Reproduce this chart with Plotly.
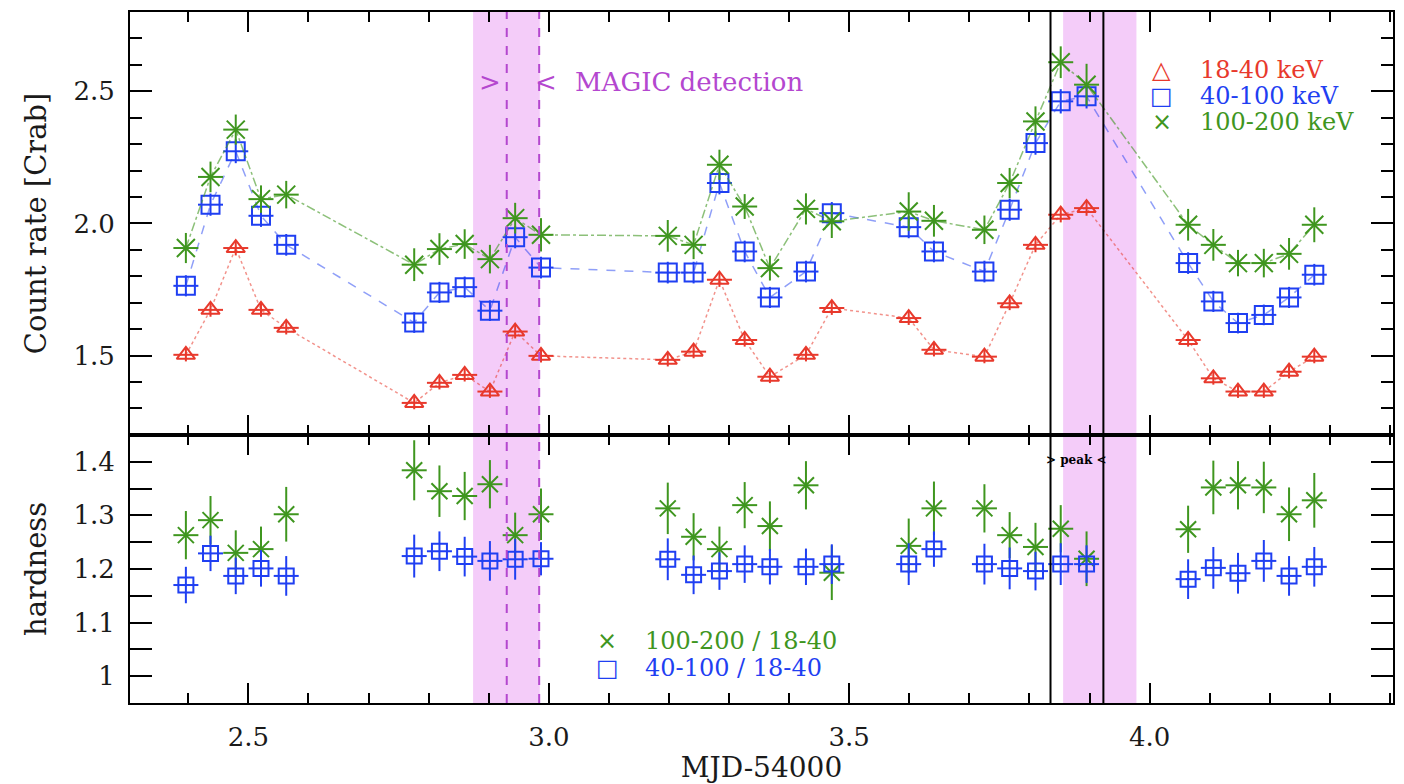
import plotly.graph_objects as go

# ---------------- data ----------------
mjd = [2.396, 2.437, 2.479, 2.521, 2.563, 2.776, 2.818, 2.860, 2.902, 2.944, 2.987,
       3.198, 3.241, 3.284, 3.326, 3.368, 3.428, 3.471, 3.599, 3.641, 3.725, 3.767,
       3.810, 3.852, 3.895, 4.064, 4.106, 4.147, 4.190, 4.232, 4.274]

rate_18_40 = [1.503, 1.673, 1.907, 1.673, 1.605, 1.321, 1.397, 1.427, 1.364, 1.591, 1.499,
              1.484, 1.515, 1.787, 1.559, 1.420, 1.503, 1.680, 1.642, 1.522, 1.496, 1.698,
              1.919, 2.033, 2.058, 1.559, 1.414, 1.364, 1.364, 1.439, 1.496]
err_18_40 = [0.025, 0.026, 0.028, 0.026, 0.025, 0.024, 0.025, 0.025, 0.024, 0.026, 0.025,
             0.025, 0.025, 0.027, 0.025, 0.024, 0.025, 0.026, 0.026, 0.025, 0.025, 0.026,
             0.028, 0.029, 0.029, 0.025, 0.024, 0.024, 0.024, 0.025, 0.025]

rate_40_100 = [1.764, 2.071, 2.273, 2.029, 1.919, 1.625, 1.739, 1.759, 1.670, 1.948, 1.833,
               1.814, 1.814, 2.153, 1.894, 1.720, 1.818, 2.039, 1.986, 1.894, 1.818, 2.052,
               2.304, 2.462, 2.481, 1.850, 1.705, 1.623, 1.654, 1.720, 1.806]
err_40_100 = [0.040, 0.042, 0.045, 0.042, 0.041, 0.039, 0.040, 0.040, 0.039, 0.042, 0.041,
              0.041, 0.041, 0.043, 0.041, 0.040, 0.041, 0.042, 0.042, 0.041, 0.041, 0.042,
              0.044, 0.046, 0.046, 0.041, 0.040, 0.039, 0.039, 0.040, 0.041]

rate_100_200 = [1.907, 2.176, 2.355, 2.092, 2.109, 1.844, 1.903, 1.922, 1.865, 2.020, 1.957,
                1.953, 1.919, 2.222, 2.064, 1.831, 2.055, 2.008, 2.045, 2.010, 1.976, 2.153,
                2.386, 2.610, 2.525, 1.995, 1.919, 1.850, 1.850, 1.885, 1.995]
err_100_200 = [0.057, 0.058, 0.057, 0.052, 0.052, 0.062, 0.060, 0.056, 0.054, 0.058, 0.063,
               0.060, 0.054, 0.057, 0.047, 0.047, 0.059, 0.063, 0.073, 0.060, 0.054, 0.057,
               0.057, 0.060, 0.079, 0.060, 0.060, 0.050, 0.054, 0.060, 0.066]

hard_100_200 = [1.263, 1.291, 1.230, 1.237, 1.302, 1.384, 1.345, 1.336, 1.358, 1.263, 1.302,
                1.313, 1.260, 1.237, 1.319, 1.280, 1.356, 1.193, 1.243, 1.313, 1.313, 1.263,
                1.241, 1.275, 1.219, 1.274, 1.352, 1.356, 1.352, 1.302, 1.328]
herr_100_200 = [0.045, 0.045, 0.042, 0.042, 0.051, 0.056, 0.048, 0.045, 0.045, 0.042, 0.048,
                0.048, 0.044, 0.042, 0.043, 0.046, 0.045, 0.051, 0.051, 0.050, 0.045, 0.043,
                0.045, 0.044, 0.051, 0.044, 0.050, 0.045, 0.048, 0.050, 0.051]

hard_40_100 = [1.170, 1.229, 1.187, 1.201, 1.187, 1.224, 1.233, 1.223, 1.215, 1.218, 1.219,
               1.218, 1.189, 1.196, 1.209, 1.204, 1.204, 1.209, 1.209, 1.237, 1.209, 1.201,
               1.196, 1.209, 1.209, 1.181, 1.202, 1.192, 1.215, 1.187, 1.204]
herr_40_100 = [0.034, 0.033, 0.034, 0.034, 0.037, 0.040, 0.037, 0.037, 0.037, 0.038, 0.031,
               0.039, 0.036, 0.035, 0.035, 0.033, 0.034, 0.037, 0.039, 0.033, 0.038, 0.039,
               0.036, 0.039, 0.035, 0.037, 0.039, 0.038, 0.039, 0.037, 0.037]

bin_halfwidth = 0.0208          # half of a ~1 h science window (days)

magic_band = [2.874, 2.985]     # MAGIC observation window
magic_lines = [2.930, 2.984]    # MAGIC detection markers
peak_band = [3.856, 3.978]
peak_lines = [3.835, 3.923]

x_ticks = [2.5, 3.0, 3.5, 4.0]
x_ticktext = ["2.5", "3.0", "3.5", "4.0"]
rate_ticks = [1.5, 2.0, 2.5]
rate_ticktext = ["1.5", "2.0", "2.5"]
hard_ticks = [1.0, 1.1, 1.2, 1.3, 1.4]
hard_ticktext = ["1", "1.1", "1.2", "1.3", "1.4"]

# ---------------- style ----------------
RED = "#e8392c"
BLUE = "#1f3ff2"
GREEN = "#3f961f"
VIOLET = "#b447cf"
BAND = "#f4ccf9"
FONT = "DejaVu Serif"
TXT = "#1a1a1a"

fig = go.Figure()


def add_series(x, y, err, color, symbol, size, xa, ya, line=None):
    fig.add_trace(go.Scatter(
        x=x, y=y,
        mode="lines+markers" if line else "markers",
        line=line,
        marker=dict(symbol=symbol, size=size, color=color,
                    line=dict(width=2, color=color)),
        error_y=dict(type="data", array=err, color=color, thickness=2, width=0),
        error_x=dict(type="constant", value=bin_halfwidth, color=color,
                     thickness=2, width=0),
        xaxis=xa, yaxis=ya, showlegend=False, hoverinfo="x+y",
    ))


# top panel: count rates
add_series(mjd, rate_18_40, err_18_40, RED, "triangle-up-open", 16, "x2", "y",
           line=dict(color="rgba(232,57,44,0.55)", width=1.5, dash="dot"))
add_series(mjd, rate_40_100, err_40_100, BLUE, "square-open", 18, "x2", "y",
           line=dict(color="rgba(31,63,242,0.5)", width=1.5, dash="dash"))
add_series(mjd, rate_100_200, err_100_200, GREEN, "x-thin-open", 18, "x2", "y",
           line=dict(color="rgba(63,150,31,0.6)", width=1.5, dash="dashdot"))

# bottom panel: hardness ratios
add_series(mjd, hard_100_200, herr_100_200, GREEN, "x-thin-open", 16, "x", "y2")
add_series(mjd, hard_40_100, herr_40_100, BLUE, "square-open", 15, "x", "y2")

# ---------------- shapes ----------------
shapes = []
for x0, x1 in (magic_band, peak_band):
    shapes.append(dict(type="rect", xref="x", yref="paper", x0=x0, x1=x1, y0=0, y1=1,
                       fillcolor=BAND, line=dict(width=0), layer="below"))
for xv in magic_lines:
    shapes.append(dict(type="line", xref="x", yref="paper", x0=xv, x1=xv, y0=0, y1=1,
                       line=dict(color=VIOLET, width=2, dash="dash"), layer="above"))
for xv in peak_lines:
    shapes.append(dict(type="line", xref="x", yref="paper", x0=xv, x1=xv, y0=0, y1=1,
                       line=dict(color="black", width=2), layer="above"))

# ---------------- annotations ----------------
ann = []
ann.append(dict(x=2.902, y=2.537, xref="x2", yref="y", text=">", showarrow=False,
                font=dict(family=FONT, size=26, color=VIOLET)))
ann.append(dict(x=2.995, y=2.537, xref="x2", yref="y", text="<", showarrow=False,
                font=dict(family=FONT, size=26, color=VIOLET)))
ann.append(dict(x=3.040, y=2.537, xref="x2", yref="y", text="MAGIC detection",
                showarrow=False, xanchor="left",
                font=dict(family=FONT, size=26, color=VIOLET)))
ann.append(dict(x=3.879, y=1.404, xref="x", yref="y2", text="<b>&gt; peak &lt;</b>",
                showarrow=False, font=dict(family=FONT, size=12, color="black")))

legend_top = [("△", "18-40 keV", RED, 2.582),
              ("□", "40-100 keV", BLUE, 2.484),
              ("×", "100-200 keV", GREEN, 2.385)]
for sym, lab, col, yv in legend_top:
    ann.append(dict(x=4.020, y=yv, xref="x2", yref="y", text=sym, showarrow=False,
                    font=dict(family="DejaVu Sans", size=24, color=col)))
    ann.append(dict(x=4.080, y=yv, xref="x2", yref="y", text=lab, showarrow=False,
                    xanchor="left", font=dict(family=FONT, size=24, color=col)))

legend_bot = [("×", "100-200 / 18-40", GREEN, 1.066),
              ("□", "40-100 / 18-40", BLUE, 1.016)]
for sym, lab, col, yv in legend_bot:
    ann.append(dict(x=3.097, y=yv, xref="x", yref="y2", text=sym, showarrow=False,
                    font=dict(family="DejaVu Sans", size=24, color=col)))
    ann.append(dict(x=3.156, y=yv, xref="x", yref="y2", text=lab, showarrow=False,
                    xanchor="left", font=dict(family=FONT, size=24, color=col)))

# ---------------- axes ----------------
common = dict(showline=True, linecolor="black", linewidth=2, mirror="ticks",
              ticks="inside", tickwidth=2, tickcolor="black",
              showgrid=False, zeroline=False, automargin=False,
              tickfont=dict(family=FONT, size=26, color=TXT))

xcommon = dict(common, range=[2.303, 4.405], tickmode="array", tickvals=x_ticks,
               ticktext=x_ticktext, ticklen=20,
               minor=dict(dtick=0.1, tick0=0, ticklen=10, tickwidth=2,
                          ticks="inside", tickcolor="black"))

# the page body adds an 8 px offset at top/left, so the figure is 8 px smaller
fig.update_layout(
    width=1396, height=776,
    margin=dict(l=122, r=11, t=4, b=81),
    paper_bgcolor="white", plot_bgcolor="white",
    showlegend=False,
    xaxis=dict(xcommon, anchor="y2", domain=[0, 1], ticklabelstandoff=10,
               title=dict(text="MJD-54000", standoff=10,
                          font=dict(family=FONT, size=28, color=TXT))),
    xaxis2=dict(xcommon, anchor="y", matches="x", showticklabels=False),
    yaxis=dict(common, domain=[0.388, 1], range=[1.2, 2.8], tickmode="array",
               tickvals=rate_ticks, ticktext=rate_ticktext, ticklen=22,
               ticklabelstandoff=8,
               minor=dict(dtick=0.1, tick0=0, ticklen=12, tickwidth=2,
                          ticks="inside", tickcolor="black"),
               title=dict(text="Count rate [Crab]", standoff=18,
                          font=dict(family=FONT, size=29, color=TXT))),
    yaxis2=dict(common, domain=[0, 0.388], range=[0.95, 1.45], tickmode="array",
                tickvals=hard_ticks, ticktext=hard_ticktext, ticklen=22,
                ticklabelstandoff=8,
                minor=dict(dtick=0.05, tick0=0, ticklen=22, tickwidth=2,
                           ticks="inside", tickcolor="black"),
                title=dict(text="hardness", standoff=18,
                           font=dict(family=FONT, size=29, color=TXT))),
    shapes=shapes,
    annotations=ann,
)

fig.write_html("out.html")
